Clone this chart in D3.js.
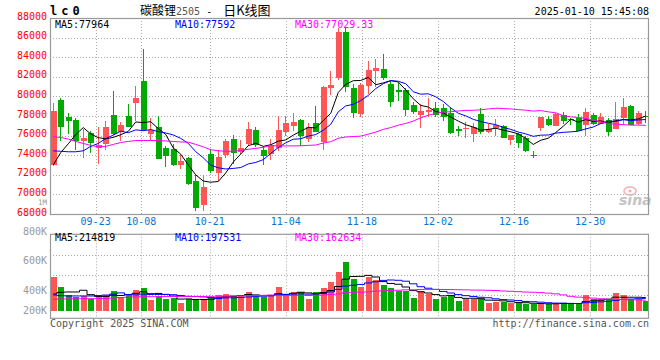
<!DOCTYPE html>
<html><head><meta charset="utf-8">
<script src="https://cdn.jsdelivr.net/npm/d3@7"></script>
<style>
body{margin:0;background:#fff}
svg{display:block}
text{font-family:"DejaVu Sans Mono",monospace;font-size:10px}
</style></head>
<body><svg id="c" width="660" height="360"></svg>
<script>
// ---------- data ----------
const dates = ["09-11","09-12","09-13","09-18","09-19","09-20","09-23","09-24","09-25","09-26","09-27","09-30",
"10-08","10-09","10-10","10-11","10-14","10-15","10-16","10-17","10-18","10-21","10-22","10-23","10-24","10-25",
"10-28","10-29","10-30","10-31","11-01","11-04","11-05","11-06","11-07","11-08","11-11","11-12","11-13","11-14",
"11-15","11-18","11-19","11-20","11-21","11-22","11-25","11-26","11-27","11-28","11-29","12-02","12-03","12-04",
"12-05","12-06","12-09","12-10","12-11","12-12","12-13","12-16","12-17","12-18","12-19","12-20","12-23","12-24",
"12-25","12-26","12-27","12-30","12-31","01-02","01-03","01-06","01-07","01-08","01-09","01-10"];
const opens = [72950,79640,77940,77610,75470,76250,74780,75190,78120,76350,78010,79370,81580,76210,76890,74780,74650,73020,73700,71320,
68870,74110,72200,74000,75670,74350,75160,76590,74550,74140,74750,76350,77030,77610,75670,77270,75300,80900,81890,86600,
80900,78220,81100,82630,82800,81310,80660,80660,79140,78120,78390,78830,78830,78290,76640,76640,76180,78220,76410,76760,
77000,75600,76180,75800,74050,76760,77710,77030,78120,77680,77780,77100,78120,77170,77610,76690,77840,79030,77170,78050];
const highs = [79340,79880,78350,77780,76690,76490,76920,77480,80560,77420,79210,81070,84840,77780,78010,74890,75160,74040,73770,72000,
72000,74650,74550,75620,76080,75570,77430,76890,74890,75670,78010,78010,78320,77700,77270,79030,81100,82600,86980,87110,
81270,81380,83590,83770,84300,81580,81350,80870,79440,79190,79880,79440,79210,78930,77000,77370,77270,78830,77150,77730,
77100,76080,76250,75910,74450,77940,78010,78290,78390,77840,78190,78860,78290,78270,77810,79410,79820,79140,78520,78520];
const lows = [72900,75400,76180,74550,73700,74210,73120,74550,76080,75440,76900,77500,76490,75570,73630,72750,72850,72610,70980,68330,
68260,72200,71320,73740,73120,74140,74890,74800,72950,73530,74450,75980,76490,74890,75310,76330,74500,80150,81680,80490,
77810,77940,80260,81000,81630,78960,79540,77960,78170,76820,77910,77910,77500,76180,75910,75800,75310,76150,76230,76010,
75770,75010,74780,74320,73740,76490,77000,77030,77170,77100,76420,75910,77100,77170,75910,76690,77100,77070,77100,77270];
const closes = [78520,76920,77500,75400,75740,75260,75060,76890,76150,77100,76920,79880,76590,76590,73630,73870,73020,73430,71050,68610,
70710,72410,73810,75400,74190,74780,76690,74990,73870,75010,76590,77330,77430,75910,76890,76380,81000,81170,86570,81000,
78270,81120,82700,82870,81920,79440,80410,78630,78390,78520,78630,78070,77940,76280,76490,76740,76920,76330,76690,77070,
75800,76080,75230,74380,74000,77940,77100,78190,77540,77560,76490,78390,77170,77910,76410,77710,78960,77100,78290,77980];
const volumes = [554000,391000,251000,228000,240000,196000,251000,251000,326000,218000,277000,342000,375000,174000,240000,196000,207000,130000,186000,196000,
196000,218000,251000,272000,240000,251000,305000,218000,218000,251000,391000,251000,305000,305000,196000,305000,370000,468000,631000,794000,
522000,386000,544000,500000,419000,370000,321000,321000,207000,321000,272000,191000,218000,245000,158000,196000,196000,186000,126000,147000,
147000,126000,126000,104000,104000,126000,104000,126000,126000,104000,126000,256000,186000,186000,186000,289000,251000,186000,186000,158000];
// moving-average values before enough bars are on screen
const ma5Head  = [73000,74270,75160,76110];
const ma10Head = [74450,74400,74350,74350,74450,74900,75200,75700,76050];
const ma30Head = [75900,75800,75650,75400,75200,75000,74850,74900,75100,75300,75400,75500,75500,75500,75500,75450,75400,75350,75330,75100,
74850,74550,74450,74400,74400,74500,74600,74700,74800];
const vma5Head  = [272000,300000,305000,305000];
const vma10Head = [256000,245000,240000,240000,240000,240000,245000,255000,270000];
const vma30Head = [186000,190000,192000,194000,196000,196000,198000,200000,205000,215000,220000,225000,228000,228000,230000,230000,230000,230000,230000,230000,
232000,234000,236000,238000,240000,242000,245000,248000,250000];
const priceTicks = [88000,86000,84000,82000,80000,78000,76000,74000,72000,70000,68000];
const volTicks = [800000,600000,400000,200000];
const volTickLabels = ["800K","600K","400K","200K"];
const dateTicks = ["09-23","10-08","10-21","11-04","11-18","12-02","12-16","12-30"];
const priceMaText = ["MA5:77964","MA10:77592","MA30:77029.33"];
const volMaText = ["MA5:214819","MA10:197531","MA30:162634"];
const maColors = ["#000000","#0000ff","#ff00ff"];

// ---------- helpers ----------
function ma(arr, n, head){
  return arr.map((v,i)=> i < n-1 ? head[i] : d3.mean(arr.slice(i-n+1,i+1)));
}
const RED="#ff5555", GREEN="#00aa00", GRID="#aaaaaa", FRAME="#999999";

const svg = d3.select("#c");
const L=50, R=649, mTop=18, mBot=214, vTop=234.3, vBot=318.3;

const x = d3.scaleBand().domain(dates).range([49.5, 649.5]);
const cx = d => x(d) + x.bandwidth()/2;
const gx = d3.scalePoint().domain(dates).range([50, 651]);
const y = d3.scaleLinear().domain([68000, 88000]).range([mBot, mTop]);
const yv = d3.scaleLinear().domain([0, 1245000]).range([310.7, vTop]);
const volLabelY = d3.scaleLinear().domain([200000, 800000]).range([320.1, 231]);
const vPanel = d3.scaleLinear().domain([0,1]).range([vTop, vBot]);
const volGridFrac = [0.25, 0.488, 0.726];

const data = dates.map((d,i)=>({d, o:opens[i], h:highs[i], l:lows[i], c:closes[i], v:volumes[i]}));

svg.append("defs").append("clipPath").attr("id","mclip")
  .append("rect").attr("x",L).attr("y",mTop).attr("width",R-L).attr("height",mBot-mTop);
svg.select("defs").append("clipPath").attr("id","vclip")
  .append("rect").attr("x",L).attr("y",vTop).attr("width",R-L).attr("height",vBot-vTop);

// ---------- grid ----------
const g = svg.append("g");
g.selectAll(".hg").data(priceTicks.filter(t=>t<88000 && t>68000)).join("line")
  .attr("x1",L).attr("x2",R).attr("y1",d=>Math.round(y(d))+0.5).attr("y2",d=>Math.round(y(d))+0.5)
  .attr("stroke",GRID).attr("stroke-dasharray","1,2");
g.selectAll(".vg").data(dateTicks).join("line")
  .attr("x1",d=>Math.round(gx(d))+0.5).attr("x2",d=>Math.round(gx(d))+0.5).attr("y1",mTop).attr("y2",mBot)
  .attr("stroke",GRID).attr("stroke-dasharray","1,2");
g.selectAll(".hgv").data(volGridFrac).join("line")
  .attr("x1",L).attr("x2",R).attr("y1",d=>Math.round(vPanel(d))+0.5).attr("y2",d=>Math.round(vPanel(d))+0.5)
  .attr("stroke",GRID).attr("stroke-dasharray","1,2");
g.selectAll(".vgv").data(dateTicks).join("line")
  .attr("x1",d=>Math.round(gx(d))+0.5).attr("x2",d=>Math.round(gx(d))+0.5).attr("y1",vTop).attr("y2",vBot)
  .attr("stroke",GRID).attr("stroke-dasharray","1,2");

// watermark
const wm = svg.append("g");
wm.append("ellipse").attr("cx",630).attr("cy",191).attr("rx",6).attr("ry",4)
  .attr("fill","none").attr("stroke","#f3b0b0").attr("stroke-width",1.5);
wm.append("circle").attr("cx",630).attr("cy",191).attr("r",1.6).attr("fill","#f3b0b0");
wm.append("text").attr("x",619).attr("y",205).text("sina")
  .style("font-family","DejaVu Sans").style("font-size","14px").style("font-weight","bold").style("font-style","italic")
  .attr("fill","#c4c4c4");

// ---------- candles ----------
const cg = svg.append("g").attr("clip-path","url(#mclip)").attr("shape-rendering","crispEdges");
data.forEach(p=>{
  const col = p.c >= p.o ? RED : GREEN;
  const px = Math.floor(cx(p.d));
  cg.append("line").attr("x1",px+0.5).attr("x2",px+0.5).attr("y1",y(p.h)).attr("y2",y(p.l)).attr("stroke",col);
  const top = y(Math.max(p.o,p.c)), bot = y(Math.min(p.o,p.c));
  cg.append("rect").attr("x",px-2).attr("width",6).attr("y",top).attr("height",Math.max(1,bot-top)).attr("fill",col);
});

// ---------- price MAs ----------
const pm = [ma(closes,5,ma5Head), ma(closes,10,ma10Head), ma(closes,30,ma30Head)];
const lg = svg.append("g").attr("clip-path","url(#mclip)");
pm.forEach((s,k)=>{
  lg.append("path").datum(s).attr("fill","none").attr("stroke",maColors[k]).attr("stroke-width",1)
    .attr("d", d3.line().x((v,i)=>cx(dates[i])).y(v=>y(v)));
});

// ---------- volume ----------
const vg = svg.append("g").attr("clip-path","url(#vclip)").attr("shape-rendering","crispEdges");
vg.selectAll("rect").data(data).join("rect")
  .attr("x",p=>Math.floor(cx(p.d))-2).attr("width",6)
  .attr("y",p=>yv(p.v)).attr("height",p=>yv(0)-yv(p.v))
  .attr("fill",p=>p.c>=p.o?RED:GREEN);
const vm = [ma(volumes,5,vma5Head), ma(volumes,10,vma10Head), ma(volumes,30,vma30Head)];
const vlg = svg.append("g").attr("clip-path","url(#vclip)");
vm.forEach((s,k)=>{
  vlg.append("path").datum(s).attr("fill","none").attr("stroke",maColors[k]).attr("stroke-width",1)
    .attr("d", d3.line().curve(d3.curveStep).x((v,i)=>cx(dates[i])).y(v=>yv(v)));
});

// ---------- frames ----------
svg.append("rect").attr("x",L+0.5).attr("y",mTop+0.5).attr("width",R-L-1).attr("height",mBot-mTop)
  .attr("fill","none").attr("stroke",FRAME).attr("stroke-width",1.2);
svg.append("rect").attr("x",L+0.5).attr("y",vTop).attr("width",R-L-1).attr("height",vBot-vTop)
  .attr("fill","none").attr("stroke",FRAME).attr("stroke-width",1.2);

// ---------- texts ----------
svg.selectAll(".pl").data(priceTicks).join("text")
  .attr("x",47).attr("y",d=>y(d)+1.5).attr("text-anchor","end").attr("fill","#ff0000").text(d=>d);
svg.append("text").attr("x",47).attr("y",204.8).attr("text-anchor","end").attr("fill","#999")
  .style("font-size","7.5px").text("1M");
svg.selectAll(".vl").data(volTicks).join("text")
  .attr("x",47).attr("y",d=>Math.min(volLabelY(d),310.3)+3.6).attr("text-anchor","end").attr("fill","#999")
  .text((d,i)=>volTickLabels[i]);
svg.selectAll(".dl").data(dateTicks).join("text")
  .attr("x",d=>gx(d)).attr("y",225).attr("text-anchor","middle").attr("fill","#0a74d0").text(d=>d);

const maX = [55,175,295];
priceMaText.forEach((t,k)=>svg.append("text").attr("x",maX[k]).attr("y",27.5).attr("fill",maColors[k]).text(t));
volMaText.forEach((t,k)=>svg.append("text").attr("x",maX[k]).attr("y",240.7).attr("fill",maColors[k]).text(t));

svg.append("text").attr("x",50).attr("y",15).text("lc0")
  .style("font-size","12px").style("font-weight","bold").style("letter-spacing","4px").attr("fill","#000");
const tt = svg.append("text").attr("x",140).attr("y",15).attr("fill","#000");
tt.append("tspan").text("碳酸锂").style("font-family","'Noto Sans CJK SC'").style("font-size","12px");
tt.append("tspan").text("2505").attr("fill","#555");
tt.append("tspan").text(" - ");
tt.append("tspan").attr("dx",5).text("日K线图").style("font-family","'Noto Sans CJK SC'").style("font-size","13px");
svg.append("text").attr("x",649).attr("y",15).attr("text-anchor","end").attr("fill","#000").text("2025-01-10 15:45:08");

svg.append("text").attr("x",50).attr("y",326.5).attr("fill","#555").text("Copyright 2025 SINA.COM");
svg.append("text").attr("x",649).attr("y",326.5).attr("text-anchor","end").attr("fill","#555").text("http://finance.sina.com.cn");
</script></body></html>
